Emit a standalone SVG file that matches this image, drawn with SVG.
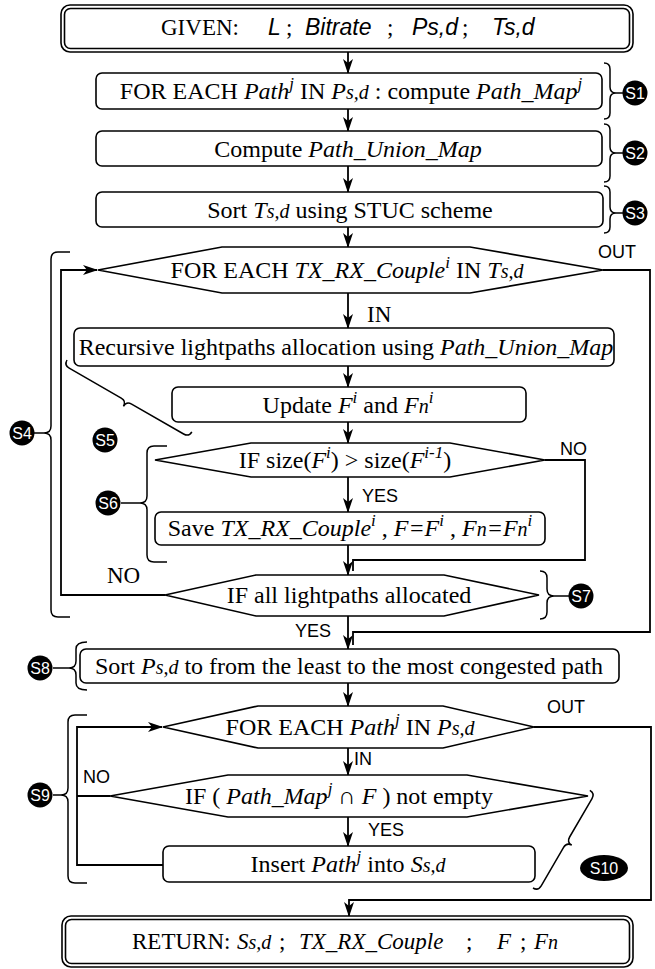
<svg xmlns="http://www.w3.org/2000/svg" width="655" height="969" viewBox="0 0 655 969">
<defs>
<marker id="ah" viewBox="0 0 15 10" refX="14" refY="5" markerWidth="15" markerHeight="10" markerUnits="userSpaceOnUse" orient="auto">
<path d="M0,0 L15,5 L0,10 L4,5 z" fill="#000"/>
</marker>
</defs>
<style>
.bx{fill:#fff;stroke:#000;stroke-width:1.6}
.ln{fill:none;stroke:#000;stroke-width:1.8}
.ar{fill:none;stroke:#000;stroke-width:1.8;marker-end:url(#ah)}
.br{fill:none;stroke:#000;stroke-width:1.5}
.t{font-family:"Liberation Serif","Times New Roman",serif;font-size:24px;text-anchor:middle;fill:#000}
.ts{font-family:"Liberation Serif","Times New Roman",serif;font-size:23px;fill:#000}
.i{font-style:italic}
.sup{font-size:17px}
.sub{font-size:20px}
.sa{font-family:"Liberation Sans",Arial,sans-serif;font-style:italic;font-size:23px}
.lab{font-family:"Liberation Sans",Arial,sans-serif;font-size:18px;fill:#000}
.sc{fill:#000}
.st{font-family:"Liberation Sans",Arial,sans-serif;font-size:16px;fill:#fff;text-anchor:middle}
</style>

<g id="connectors">
<line class="ar" x1="348" y1="52" x2="348" y2="73"/>
<line class="ar" x1="348" y1="109" x2="348" y2="131"/>
<line class="ar" x1="348" y1="166" x2="348" y2="192"/>
<line class="ar" x1="348" y1="227" x2="348" y2="247"/>
<line class="ar" x1="348" y1="293" x2="348" y2="328"/>
<line class="ar" x1="348" y1="366" x2="348" y2="387"/>
<line class="ar" x1="348" y1="422" x2="348" y2="443"/>
<line class="ar" x1="348" y1="477" x2="348" y2="512"/>
<line class="ar" x1="348" y1="545" x2="348" y2="575"/>
<line class="ar" x1="348" y1="616" x2="348" y2="649"/>
<line class="ar" x1="348" y1="683" x2="348" y2="706"/>
<line class="ar" x1="348" y1="748" x2="348" y2="775"/>
<line class="ar" x1="348" y1="817" x2="348" y2="846"/>
<polyline class="ln" points="603,270 650,270 650,632 353,632 353,645"/>
<polyline class="ln" points="545,460 585,460 585,560 353,560 353,571"/>
<polyline class="ar" points="165,595 61,595 61,270 97,270"/>
<polyline class="ar" points="534,727 651,727 651,900 349,900 349,916"/>
<polyline class="ar" points="163,865 77,865 77,727 162,727"/>
<line class="ln" x1="110" y1="796" x2="77" y2="796"/>
<text class="lab" x="598" y="258">OUT</text>
<text class="ts" x="367" y="322">IN</text>
<text class="lab" x="560" y="455">NO</text>
<text class="lab" x="362" y="502">YES</text>
<text class="ts" x="107" y="583">NO</text>
<text class="lab" x="295" y="637">YES</text>
<text class="lab" x="547" y="713">OUT</text>
<text class="lab" x="354" y="765">IN</text>
<text class="lab" x="83" y="783">NO</text>
<text class="lab" x="368" y="836">YES</text>
</g>

<g id="given">
<rect class="bx" x="61" y="5" width="572" height="47" rx="9"/>
<rect class="bx" x="64.5" y="8.5" width="565" height="40" rx="6"/>
<text class="ts" y="35"><tspan x="161">GIVEN:</tspan><tspan class="sa" x="268">L</tspan><tspan x="286">;</tspan><tspan class="sa" x="305">Bitrate</tspan><tspan x="387">;</tspan><tspan class="sa" x="412">Ps,d</tspan><tspan x="462">;</tspan><tspan class="sa" x="492">Ts,d</tspan></text>
</g>

<g id="s1">
<rect class="bx" x="96" y="73" width="506" height="36" rx="6"/>
<text class="t" x="351" y="99">FOR EACH <tspan class="i">Path</tspan><tspan class="i sup" dy="-10">j</tspan><tspan dy="10"> IN </tspan><tspan class="i">P</tspan><tspan class="i sub">s,d</tspan> : compute <tspan class="i">Path_Map</tspan><tspan class="i sup" dy="-10">j</tspan></text>
</g>

<g id="s2">
<rect class="bx" x="96" y="131" width="506" height="35" rx="6"/>
<text class="t" x="348" y="157">Compute <tspan class="i">Path_Union_Map</tspan></text>
</g>

<g id="s3">
<rect class="bx" x="96" y="192" width="507" height="35" rx="6"/>
<text class="t" x="350" y="218">Sort <tspan class="i">T</tspan><tspan class="i sub">s,d</tspan> using STUC scheme</text>
</g>

<g id="loop1">
<polygon class="bx" points="98,270 222,247 470,247 603,270 470,293 222,293"/>
<text class="t" x="347" y="278">FOR EACH <tspan class="i">TX_RX_Couple</tspan><tspan class="i sup" dy="-10">i</tspan><tspan dy="10"> IN </tspan><tspan class="i">T</tspan><tspan class="i sub">s,d</tspan></text>
</g>

<g id="recursive">
<rect class="bx" x="74" y="328" width="540" height="38" rx="6"/>
<text class="t" x="346" y="355">Recursive lightpaths allocation using <tspan class="i">Path_Union_Map</tspan></text>
</g>

<g id="update">
<rect class="bx" x="172" y="387" width="354" height="35" rx="6"/>
<text class="t" x="348" y="413">Update <tspan class="i">F</tspan><tspan class="i sup" dy="-10">i</tspan><tspan dy="10"> and </tspan><tspan class="i">F</tspan><tspan class="i sub">n</tspan><tspan class="i sup" dy="-10">i</tspan></text>
</g>

<g id="ifsize">
<polygon class="bx" points="155,460 251,443 450,443 545,460 450,477 251,477"/>
<text class="t" x="345" y="468">IF size(<tspan class="i">F</tspan><tspan class="i sup" dy="-10">i</tspan><tspan dy="10">) &gt; size(</tspan><tspan class="i">F</tspan><tspan class="i sup" dy="-10">i-1</tspan><tspan dy="10">)</tspan></text>
</g>

<g id="save">
<rect class="bx" x="155" y="512" width="390" height="33" rx="6"/>
<text class="t" x="350" y="536">Save <tspan class="i">TX_RX_Couple</tspan><tspan class="i sup" dy="-10">i</tspan><tspan dy="10"> , </tspan><tspan class="i">F=F</tspan><tspan class="i sup" dy="-10">i</tspan><tspan dy="10"> , </tspan><tspan class="i">F</tspan><tspan class="i sub">n</tspan><tspan class="i">=F</tspan><tspan class="i sub">n</tspan><tspan class="i sup" dy="-10">i</tspan></text>
</g>

<g id="ifall">
<polygon class="bx" points="165,595 256,575 444,575 539,595 444,616 256,616"/>
<text class="t" x="349" y="603">IF all lightpaths allocated</text>
</g>

<g id="s8">
<rect class="bx" x="80" y="649" width="539" height="34" rx="6"/>
<text class="t" x="349" y="674">Sort <tspan class="i">P</tspan><tspan class="i sub">s,d</tspan> to from the least to the most congested path</text>
</g>

<g id="loop2">
<polygon class="bx" points="163,727 258,706 443,706 534,727 443,748 258,748"/>
<text class="t" x="350" y="735">FOR EACH <tspan class="i">Path</tspan><tspan class="i sup" dy="-10">j</tspan><tspan dy="10"> IN </tspan><tspan class="i">P</tspan><tspan class="i sub">s,d</tspan></text>
</g>

<g id="ifnotempty">
<polygon class="bx" points="110,796 228,775 467,775 588,796 467,817 228,817"/>
<text class="t" x="339" y="804">IF ( <tspan class="i">Path_Map</tspan><tspan class="i sup" dy="-10">j</tspan><tspan dy="10"> ∩ </tspan><tspan class="i">F</tspan> ) not empty</text>
</g>

<g id="insert">
<rect class="bx" x="163" y="846" width="372" height="36" rx="6"/>
<text class="t" x="348" y="872">Insert <tspan class="i">Path</tspan><tspan class="i sup" dy="-10">j</tspan><tspan dy="10"> into </tspan><tspan class="i">S</tspan><tspan class="i sub">s,d</tspan></text>
</g>

<g id="return">
<rect class="bx" x="62" y="916" width="571" height="51" rx="9"/>
<rect class="bx" x="65.5" y="919.5" width="564" height="44" rx="6"/>
<text class="ts" y="949"><tspan x="132">RETURN:</tspan><tspan class="i" x="237">S</tspan><tspan class="i sub">s,d</tspan><tspan x="279">;</tspan><tspan class="i" x="299">TX_RX_Couple</tspan><tspan x="466">;</tspan><tspan class="i" x="497">F</tspan><tspan x="520">;</tspan><tspan class="i" x="534">F</tspan><tspan class="i sub">n</tspan></text>
</g>

<g id="label-s1">
<path class="br" d="M604,63 Q610,63 610,69 L610,87 Q610,93 616,93 Q610,93 610,99 L610,113 Q610,119 604,119 M616,93 H623"/>
<circle class="sc" cx="635" cy="93" r="12.5"/><text class="st" x="635" y="99">S1</text>
</g>
<g id="label-s2">
<path class="br" d="M604,124 Q610,124 610,130 L610,147 Q610,153 616,153 Q610,153 610,159 L610,176 Q610,182 604,182 M616,153 H623"/>
<circle class="sc" cx="635" cy="153" r="12.5"/><text class="st" x="635" y="159">S2</text>
</g>
<g id="label-s3">
<path class="br" d="M604,186 Q610,186 610,192 L610,207 Q610,213 616,213 Q610,213 610,219 L610,227 Q610,233 604,233 M616,213 H623"/>
<circle class="sc" cx="635" cy="213" r="12.5"/><text class="st" x="635" y="219">S3</text>
</g>
<g id="label-s4">
<path class="br" d="M70,252 L58,252 Q51,252 51,259 L51,426 Q51,433 44,433 Q51,433 51,440 L51,610 Q51,617 58,617 L70,617 M44,433 H34"/>
<circle class="sc" cx="22" cy="433" r="12.5"/><text class="st" x="22" y="439">S4</text>
</g>
<g id="label-s5">
<path class="br" transform="translate(67,360) rotate(29.9)" d="M0,0 Q0,6 6,6 L66,6 Q72,6 72,12 Q72,6 78,6 L138,6 Q144,6 144,0"/>
<circle class="sc" cx="105" cy="440" r="12.5"/><text class="st" x="105" y="446">S5</text>
</g>
<g id="label-s6">
<path class="br" d="M167,446 L154,446 Q147,446 147,453 L147,496 Q147,503 140,503 Q147,503 147,510 L147,555 Q147,562 154,562 L167,562 M140,503 H121"/>
<circle class="sc" cx="108" cy="503" r="12.5"/><text class="st" x="108" y="509">S6</text>
</g>
<g id="label-s7">
<path class="br" d="M540,571 Q547,571 547,578 L547,589 Q547,596 554,596 Q547,596 547,603 L547,612 Q547,619 540,619 M554,596 H569"/>
<circle class="sc" cx="581" cy="596" r="12.5"/><text class="st" x="581" y="602">S7</text>
</g>
<g id="label-s8">
<path class="br" d="M87,642 Q76,642 76,649 L76,661 Q76,668 69,668 Q76,668 76,675 L76,683 Q76,690 87,690 M69,668 H53"/>
<circle class="sc" cx="40" cy="668" r="12.5"/><text class="st" x="40" y="674">S8</text>
</g>
<g id="label-s9">
<path class="br" d="M87,715 L75,715 Q68,715 68,722 L68,788 Q68,795 61,795 Q68,795 68,802 L68,876 Q68,883 75,883 L87,883 M61,795 H53"/>
<circle class="sc" cx="40" cy="795" r="12.5"/><text class="st" x="40" y="801">S9</text>
</g>
<g id="label-s10">
<path class="br" transform="translate(533,888) rotate(-59.8)" d="M0,0 Q0,6 6,6 L50.5,6 Q56.5,6 56.5,12 Q56.5,6 62.5,6 L107,6 Q113,6 113,0"/>
<ellipse class="sc" cx="604" cy="868" rx="24" ry="13"/><text class="st" x="604" y="874">S10</text>
</g>
</svg>
